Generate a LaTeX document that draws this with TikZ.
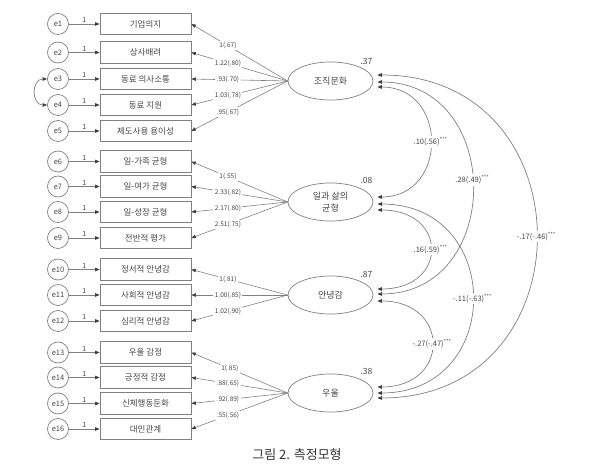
\documentclass[tikz,border=0pt]{standalone}
\usepackage{fontspec}
\setmainfont{Noto Sans CJK KR}
\usetikzlibrary{arrows.meta,calc,shapes.geometric}
\definecolor{ln}{RGB}{128,128,128}
\definecolor{tx}{RGB}{70,70,70}
\begin{document}
\begin{tikzpicture}[x=1pt,y=-1pt,
  err/.style={circle,draw=ln,line width=0.7pt,minimum size=21pt,inner sep=0pt,text=tx,font=\fontsize{7.5}{8}\selectfont},
  ind/.style={rectangle,draw=ln,line width=0.7pt,minimum width=91pt,minimum height=21.5pt,inner sep=0pt,text=tx,font=\fontsize{8.5}{10}\selectfont},
  lat/.style={ellipse,draw=ln,line width=0.7pt,minimum width=85pt,minimum height=38pt,inner sep=0pt,text=tx,align=center,font=\fontsize{9}{12}\selectfont},
  tipend/.style={-{Triangle[length=4.5pt,width=3.5pt,color=black!75]}},
  errarr/.style={draw=ln,line width=0.7pt,tipend},
  load/.style={draw=ln,line width=0.6pt,tipend},
  cov/.style={draw=ln,line width=0.7pt,{Triangle[length=4.5pt,width=3.5pt,color=black!75]}-{Triangle[length=4.5pt,width=3.5pt,color=black!75]}},
  one/.style={above,inner sep=1pt,text=tx,font=\fontsize{7}{8}\selectfont},
  lbl/.style={fill=white,inner sep=1.5pt,text=tx,font=\fontsize{6.5}{7.5}\selectfont},
  clbl/.style={fill=white,inner sep=1.5pt,text=tx,font=\fontsize{7.5}{9}\selectfont},
  r2/.style={text=tx,font=\fontsize{8.5}{9.5}\selectfont},
]
\path[use as bounding box] (0,0) rectangle (606,470);

% observed indicators with their error terms
\foreach \i/\y/\t in {1/24/기업의지, 2/52.5/상사배려, 3/79/동료 의사소통, 4/105/동료 지원,
  5/131/제도사용 용이성, 6/161.5/일-가족 균형, 7/186.5/일-여가 균형, 8/212/일-성장 균형,
  9/238/전반적 평가, 10/269.5/정서적 안녕감, 11/295/사회적 안녕감, 12/321/심리적 안녕감,
  13/352.5/우울 감정, 14/377.5/긍정적 감정, 15/403.5/신체행동둔화, 16/429/대인관계}{
  \node[ind] (b\i) at (145.5,\y) {\t};
  \node[err] (e\i) at (58,\y) {e\i};
  \draw[errarr] (e\i) -- node[one]{1} (b\i);
}

% error covariance e3 - e4
\draw[cov] (e3.west) .. controls +(-16,0) and +(-16,0) .. (e4.west);

% latent factors
\node[lat] (o1) at (330.5,81) {조직문화};
\node[lat] (o2) at (330.5,202) {일과 삶의\\균형};
\node[lat] (o3) at (330.5,295) {안녕감};
\node[lat] (o4) at (330.5,393) {우울};

% explained variance
\node[r2] (r1) at ($(o1.center)+(36,-20)$) {.37};
\node[r2] (r2n) at ($(o2.center)+(36,-22)$) {.08};
\node[r2] (r3) at ($(o3.center)+(36,-21)$) {.87};
\node[r2] (r4) at ($(o4.center)+(36,-22)$) {.38};

% factor loadings
\draw[load] (o1.west) -- node[lbl,pos=.62]{1(.67)} (b1.east);
\draw[load] (o1.west) -- node[lbl,pos=.62]{1.22(.80)} (b2.east);
\draw[load] (o1.west) -- node[lbl,pos=.62]{.93(.70)} (b3.east);
\draw[load] (o1.west) -- node[lbl,pos=.62]{1.03(.78)} (b4.east);
\draw[load] (o1.west) -- node[lbl,pos=.62]{.95(.67)} (b5.east);

\draw[load] (o2.west) -- node[lbl,pos=.62]{1(.55)} (b6.east);
\draw[load] (o2.west) -- node[lbl,pos=.62]{2.33(.82)} (b7.east);
\draw[load] (o2.west) -- node[lbl,pos=.62]{2.17(.80)} (b8.east);
\draw[load] (o2.west) -- node[lbl,pos=.62]{2.51(.75)} (b9.east);

\draw[load] (o3.west) -- node[lbl,pos=.62]{1(.81)} (b10.east);
\draw[load] (o3.west) -- node[lbl,pos=.62]{1.00(.85)} (b11.east);
\draw[load] (o3.west) -- node[lbl,pos=.62]{1.02(.90)} (b12.east);

\draw[load] (o4.west) -- node[lbl,pos=.60]{1(.85)} (b13.east);
\draw[load] (o4.west) -- node[lbl,pos=.62]{.88(.65)} (b14.east);
\draw[load] (o4.west) -- node[lbl,pos=.62]{.92(.89)} (b15.east);
\draw[load] (o4.west) -- node[lbl,pos=.62]{.55(.56)} (b16.east);

% factor covariances
\draw[cov] ($(o1.east)+(4,6)$) .. controls +(71,0) and +(71,0) .. node[clbl]{.10(.56)\textsuperscript{***}} ($(o2.east)+(4,-5)$);
\draw[cov] ($(o1.east)+(4,1)$) .. controls +(127,0) and +(127,0) .. node[clbl,pos=.475]{.28(.49)\textsuperscript{***}} ($(o3.east)+(4,-1)$);
\draw[cov] ($(o1.east)+(4,-6)$) .. controls +(212,0) and +(212,0) .. node[clbl]{-.17(-.46)\textsuperscript{***}} ($(o4.east)+(4,5)$);
\draw[cov] ($(o2.east)+(4,8)$) .. controls +(71,0) and +(71,0) .. node[clbl]{.16(.59)\textsuperscript{***}} ($(o3.east)+(4,-6)$);
\draw[cov] ($(o2.east)+(4,2)$) .. controls +(127,0) and +(127,0) .. node[clbl]{-.11(-.63)\textsuperscript{***}} ($(o4.east)+(4,0)$);
\draw[cov] ($(o3.east)+(4,6)$) .. controls +(73,0) and +(73,0) .. node[clbl]{-.27(-.47)\textsuperscript{***}} ($(o4.east)+(4,-6)$);

% caption
\node[font=\fontsize{13}{15}\selectfont,text=black!80] (cap) at (297,455) {그림 2. 측정모형};
\end{tikzpicture}
\end{document}
